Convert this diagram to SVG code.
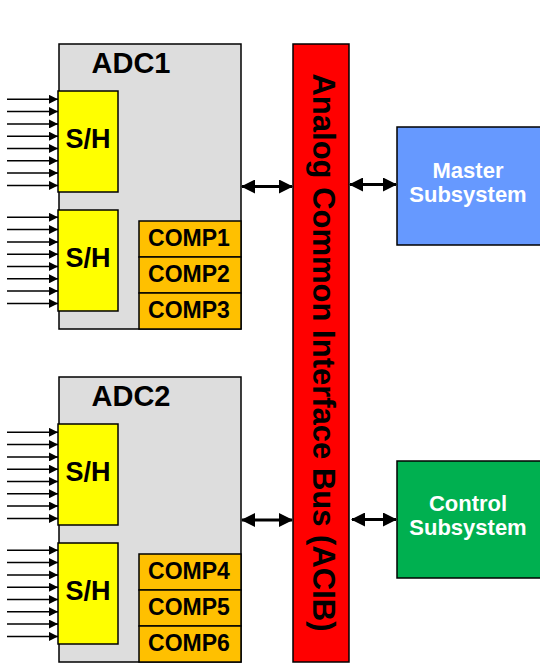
<svg xmlns="http://www.w3.org/2000/svg" width="540" height="663" viewBox="0 0 540 663">
<style>
.box{stroke:#000;stroke-width:1.5}
.adc{fill:#DDDDDD}
.sh{fill:#FFFF00}
.comp{fill:#FFC000}
.t{font-family:"Liberation Sans",Arial,sans-serif;font-weight:bold;text-anchor:middle}
.in{stroke:#000;stroke-width:1.5;marker-end:url(#sa)}
.bi{stroke:#000;stroke-width:3;marker-start:url(#ba);marker-end:url(#ba)}
</style>
<defs>
<marker id="sa" markerWidth="9" markerHeight="9" refX="9" refY="4.5" orient="auto" markerUnits="userSpaceOnUse">
<path d="M0,0 L9,4.5 L0,9 Z" fill="#000"/>
</marker>
<marker id="ba" markerWidth="14" markerHeight="14" refX="13" refY="7" orient="auto-start-reverse" markerUnits="userSpaceOnUse">
<path d="M0,0 L14,7 L0,14 Z" fill="#000"/>
</marker>
</defs>
<rect width="540" height="663" fill="#fff"/>

<g id="adc1">
<rect class="box adc" x="59" y="44" width="182" height="285"/>
<text class="t" x="131" y="73" font-size="29">ADC1</text>
</g>
<g id="sh1">
<rect class="box sh" x="58" y="91" width="60" height="101"/>
<text class="t" x="88" y="148" font-size="27">S/H</text>
</g>
<g id="sh2">
<rect class="box sh" x="58" y="210" width="60" height="101"/>
<text class="t" x="88" y="267" font-size="27">S/H</text>
</g>
<g id="comp1">
<rect class="box comp" x="139" y="221" width="102" height="36"/>
<text class="t" x="189" y="246" font-size="23">COMP1</text>
</g>
<g id="comp2">
<rect class="box comp" x="139" y="257" width="102" height="36"/>
<text class="t" x="189" y="282" font-size="23">COMP2</text>
</g>
<g id="comp3">
<rect class="box comp" x="139" y="293" width="102" height="36"/>
<text class="t" x="189" y="318" font-size="23">COMP3</text>
</g>

<g id="adc2">
<rect class="box adc" x="59" y="377" width="182" height="285"/>
<text class="t" x="131" y="406" font-size="29">ADC2</text>
</g>
<g id="sh3">
<rect class="box sh" x="58" y="424" width="60" height="101"/>
<text class="t" x="88" y="481" font-size="27">S/H</text>
</g>
<g id="sh4">
<rect class="box sh" x="58" y="543" width="60" height="101"/>
<text class="t" x="88" y="600" font-size="27">S/H</text>
</g>
<g id="comp4">
<rect class="box comp" x="139" y="554" width="102" height="36"/>
<text class="t" x="189" y="579" font-size="23">COMP4</text>
</g>
<g id="comp5">
<rect class="box comp" x="139" y="590" width="102" height="36"/>
<text class="t" x="189" y="615" font-size="23">COMP5</text>
</g>
<g id="comp6">
<rect class="box comp" x="139" y="626" width="102" height="36"/>
<text class="t" x="189" y="651" font-size="23">COMP6</text>
</g>

<g id="acib">
<rect class="box" x="293" y="44" width="56" height="618" fill="#FF0000"/>
<text class="t" font-size="31" transform="translate(312.5,352.5) rotate(90)">Analog Common Interface Bus (ACIB)</text>
</g>

<g id="master">
<rect class="box" x="397" y="127" width="150" height="118" fill="#6699FF"/>
<text class="t" x="468" y="177.5" font-size="22" fill="#fff">Master</text>
<text class="t" x="468" y="201.5" font-size="22" fill="#fff">Subsystem</text>
</g>
<g id="control">
<rect class="box" x="397" y="461" width="150" height="117" fill="#00B050"/>
<text class="t" x="468" y="510.5" font-size="22" fill="#fff">Control</text>
<text class="t" x="468" y="534.5" font-size="22" fill="#fff">Subsystem</text>
</g>

<g id="connectors">
<line class="in" x1="7" y1="99.3" x2="58" y2="99.3"/>
<line class="in" x1="7" y1="111.6" x2="58" y2="111.6"/>
<line class="in" x1="7" y1="123.9" x2="58" y2="123.9"/>
<line class="in" x1="7" y1="136.2" x2="58" y2="136.2"/>
<line class="in" x1="7" y1="148.5" x2="58" y2="148.5"/>
<line class="in" x1="7" y1="160.8" x2="58" y2="160.8"/>
<line class="in" x1="7" y1="173.1" x2="58" y2="173.1"/>
<line class="in" x1="7" y1="185.4" x2="58" y2="185.4"/>

<line class="in" x1="7" y1="217.3" x2="58" y2="217.3"/>
<line class="in" x1="7" y1="229.6" x2="58" y2="229.6"/>
<line class="in" x1="7" y1="241.9" x2="58" y2="241.9"/>
<line class="in" x1="7" y1="254.2" x2="58" y2="254.2"/>
<line class="in" x1="7" y1="266.5" x2="58" y2="266.5"/>
<line class="in" x1="7" y1="278.8" x2="58" y2="278.8"/>
<line class="in" x1="7" y1="291.1" x2="58" y2="291.1"/>
<line class="in" x1="7" y1="303.4" x2="58" y2="303.4"/>

<line class="in" x1="7" y1="432.3" x2="58" y2="432.3"/>
<line class="in" x1="7" y1="444.6" x2="58" y2="444.6"/>
<line class="in" x1="7" y1="456.9" x2="58" y2="456.9"/>
<line class="in" x1="7" y1="469.2" x2="58" y2="469.2"/>
<line class="in" x1="7" y1="481.5" x2="58" y2="481.5"/>
<line class="in" x1="7" y1="493.8" x2="58" y2="493.8"/>
<line class="in" x1="7" y1="506.1" x2="58" y2="506.1"/>
<line class="in" x1="7" y1="518.4" x2="58" y2="518.4"/>

<line class="in" x1="7" y1="550.3" x2="58" y2="550.3"/>
<line class="in" x1="7" y1="562.6" x2="58" y2="562.6"/>
<line class="in" x1="7" y1="574.9" x2="58" y2="574.9"/>
<line class="in" x1="7" y1="587.2" x2="58" y2="587.2"/>
<line class="in" x1="7" y1="599.5" x2="58" y2="599.5"/>
<line class="in" x1="7" y1="611.8" x2="58" y2="611.8"/>
<line class="in" x1="7" y1="624.1" x2="58" y2="624.1"/>
<line class="in" x1="7" y1="636.4" x2="58" y2="636.4"/>

<line class="bi" x1="242" y1="186.5" x2="292" y2="186.5"/>
<line class="bi" x1="350" y1="184.5" x2="396" y2="184.5"/>
<line class="bi" x1="242" y1="520" x2="292" y2="520"/>
<line class="bi" x1="352" y1="519.5" x2="396" y2="519.5"/>
</g>
</svg>
